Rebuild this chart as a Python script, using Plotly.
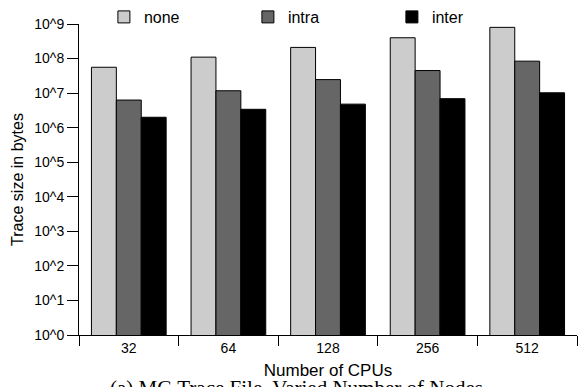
import plotly.graph_objects as go

cpus = ["32", "64", "128", "256", "512"]
none_vals = [5.6e7, 1.1e8, 2.1e8, 4.0e8, 8.0e8]
intra_vals = [6.3e6, 1.17e7, 2.46e7, 4.5e7, 8.4e7]
inter_vals = [2.0e6, 3.4e6, 4.8e6, 6.9e6, 1.02e7]
series_names = ["none", "intra", "inter"]
series_colors = ["#cccccc", "#666666", "#000000"]
ytick_vals = [10 ** i for i in range(10)]
ytick_text = ["10^%d" % i for i in range(10)]

fig = go.Figure()
for name, vals, col in zip(series_names, [none_vals, intra_vals, inter_vals], series_colors):
    fig.add_trace(go.Bar(x=cpus, y=vals, name=name, marker=dict(color=col, line=dict(color="#000000", width=1))))

fig.update_layout(
    width=578, height=387,
    margin=dict(l=79, r=1, t=23, b=52),
    paper_bgcolor="white", plot_bgcolor="white",
    barmode="group", bargap=0.25, bargroupgap=0,
    font=dict(family="Liberation Sans, Arial, sans-serif", color="#000000", size=14),
    legend=dict(orientation="h", x=0.05, y=1.02, xanchor="left", yanchor="middle",
                entrywidth=99, entrywidthmode="pixels", font=dict(size=16),
                bgcolor="rgba(0,0,0,0)", itemwidth=30),
    xaxis=dict(
        showline=True, linecolor="#000000", linewidth=1,
        ticks="outside", tickson="boundaries", ticklen=10, tickcolor="#000000",
        tickfont=dict(size=14), showgrid=False,
        title=dict(text="Number of CPUs", font=dict(size=17), standoff=9),
    ),
    yaxis=dict(
        type="log", range=[0, 9], showline=True, linecolor="#000000", linewidth=1,
        ticks="outside", ticklen=11, tickcolor="#000000",
        tickmode="array", tickvals=ytick_vals, ticktext=ytick_text,
        tickfont=dict(size=14), showgrid=False, zeroline=False,
        title=dict(text="Trace size in bytes", font=dict(size=16), standoff=6),
    ),
    annotations=[dict(
        text="(a) MG Trace File, Varied Number of Nodes",
        xref="paper", yref="paper", x=0.437, y=-0.125, xanchor="center", yanchor="top",
        showarrow=False, font=dict(family="Liberation Serif, Times New Roman, serif", size=21),
    )],
)

fig.write_html("out.html")
